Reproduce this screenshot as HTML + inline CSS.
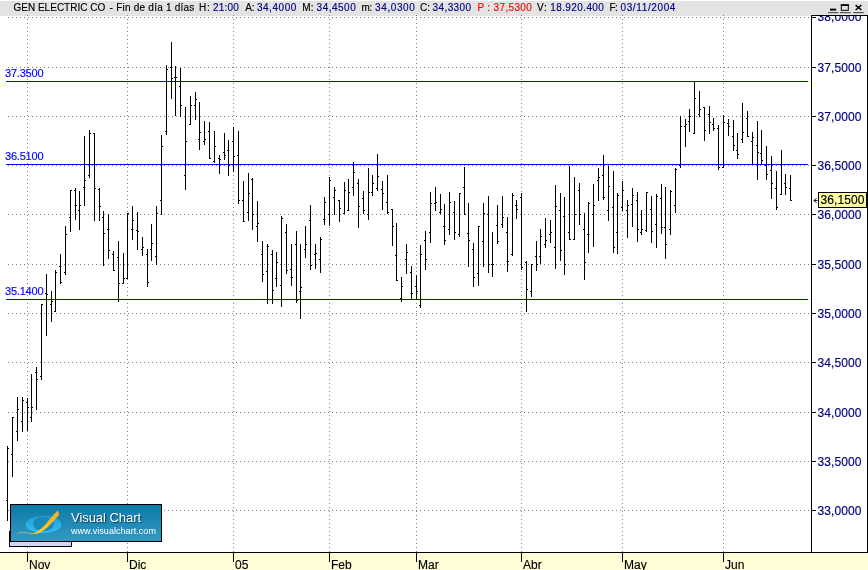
<!DOCTYPE html>
<html><head><meta charset="utf-8"><title>GEN ELECTRIC CO</title>
<style>
html,body{margin:0;padding:0;background:#fff;}
body{width:868px;height:570px;overflow:hidden;position:relative;font-family:"Liberation Sans",Arial,sans-serif;}
#hdr{position:absolute;left:0;top:1px;width:868px;height:15px;background:#e3e3e3;}
#hdr .t{position:absolute;top:1px;font-size:10px;line-height:12px;white-space:pre;color:#000;}
#hdr .b{color:#000080;} #hdr .r{color:#ff0000;}
#root{position:absolute;left:0;top:0;width:868px;height:570px;will-change:transform;}
#chart{position:absolute;left:0;top:0;}
#axis{position:absolute;left:811px;top:15px;width:55px;height:537px;border:1px solid #000;border-bottom:none;background:#fff;overflow:hidden;box-sizing:content-box;}
.pl,.ml,.bl,#tip,#hdr .t{-webkit-text-stroke:0.15px currentColor;}
.pl{position:absolute;left:818px;font-size:12px;line-height:14px;color:#000080;white-space:pre;letter-spacing:0.1px;}
.tk{position:absolute;left:812px;width:4px;height:1px;background:#000;}
#clip{position:absolute;left:812px;top:16px;width:55px;height:536px;overflow:hidden;}
#clip .pl{left:5.5px;} #clip .tk{left:0;}
#bot{position:absolute;left:0;top:552px;width:868px;height:18px;background:#fffcd6;border-top:1px solid #000;box-sizing:border-box;}
.mt{position:absolute;top:552px;width:1px;height:10px;background:#000;}
.ml{position:absolute;top:558px;font-size:12px;line-height:14px;color:#000;}
.bl{position:absolute;left:5px;font-size:11px;line-height:12px;color:#0000ff;letter-spacing:-0.2px;}
#tip{position:absolute;left:818px;top:192px;width:47px;height:14px;border:1px solid #000;background:#fffba5;font-size:12px;line-height:14px;color:#000;text-align:center;letter-spacing:0.1px;}
#logo{position:absolute;left:10px;top:504px;width:150px;height:36px;border:1px solid #000;background:linear-gradient(#0c7aa6,#3598c4);overflow:hidden;}
#logo .a{position:absolute;left:60px;top:5px;font-size:13px;line-height:15px;color:#fff;text-shadow:1px 1px 1px rgba(0,40,70,.8);white-space:pre;letter-spacing:-0.05px;}
#logo .c{position:absolute;left:60px;top:21px;font-size:9px;line-height:11px;color:#fff;white-space:pre;letter-spacing:0.05px;}
#strip{position:absolute;left:9px;top:531px;width:61px;height:14px;border:1px solid #000;background:#ccd9f2;box-sizing:content-box;}
</style></head><body><div id="root">
<div id="hdr"><span class="t k" style="left:13.4px;letter-spacing:0.02px">GEN ELECTRIC CO</span><span class="t k" style="left:109.6px;letter-spacing:0.00px">-</span><span class="t k" style="left:116.2px;letter-spacing:0.23px">Fin de día 1 días</span><span class="t k" style="left:198.9px;letter-spacing:0.78px">H:</span><span class="t b" style="left:212.9px;letter-spacing:0.21px">21:00</span><span class="t k" style="left:245.3px;letter-spacing:-0.27px">A:</span><span class="t b" style="left:256.9px;letter-spacing:0.55px">34,4000</span><span class="t k" style="left:302.2px;letter-spacing:0.27px">M:</span><span class="t b" style="left:316.6px;letter-spacing:0.50px">34,4500</span><span class="t k" style="left:361.6px;letter-spacing:-0.33px">m:</span><span class="t b" style="left:375.1px;letter-spacing:0.60px">34,0300</span><span class="t k" style="left:420.1px;letter-spacing:-0.12px">C:</span><span class="t b" style="left:432.6px;letter-spacing:0.39px">34,3300</span><span class="t r" style="left:477.4px;letter-spacing:0.34px">P : 37,5300</span><span class="t k" style="left:537.0px;letter-spacing:0.80px">V:</span><span class="t b" style="left:550.3px;letter-spacing:0.39px">18.920.400</span><span class="t k" style="left:609.4px;letter-spacing:-0.40px">F:</span><span class="t b" style="left:620.5px;letter-spacing:0.62px">03/11/2004</span>
<svg id="wb" width="40" height="14" viewBox="0 0 40 14" style="position:absolute;left:826px;top:0" shape-rendering="crispEdges">
<rect x="2" y="11" width="10.5" height="1.2" fill="#555" shape-rendering="auto"/><rect x="14" y="11" width="10.5" height="1.2" fill="#555" shape-rendering="auto"/><rect x="27.3" y="11" width="10.4" height="1.2" fill="#555" shape-rendering="auto"/>
<rect x="4" y="7.6" width="6.2" height="2" fill="#000" shape-rendering="auto"/>
<rect x="15.3" y="3.9" width="7" height="5.4" fill="none" stroke="#000" stroke-width="1" shape-rendering="auto"/><rect x="14.8" y="3.4" width="8" height="1.6" fill="#000" shape-rendering="auto"/>
<path d="M29.6 4.2L35.4 9M35.4 4.2L29.6 9" stroke="#000" stroke-width="1.5" shape-rendering="auto"/>
</svg>
</div>
<svg id="chart" width="868" height="570" viewBox="0 0 868 570" shape-rendering="crispEdges">
<line x1="8" y1="17.5" x2="809" y2="17.5" stroke="#808080" stroke-width="1" stroke-dasharray="1 3"/>
<line x1="8" y1="67.5" x2="809" y2="67.5" stroke="#808080" stroke-width="1" stroke-dasharray="1 3"/>
<line x1="8" y1="116.5" x2="809" y2="116.5" stroke="#808080" stroke-width="1" stroke-dasharray="1 3"/>
<line x1="8" y1="165.5" x2="809" y2="165.5" stroke="#808080" stroke-width="1" stroke-dasharray="1 3"/>
<line x1="8" y1="214.5" x2="809" y2="214.5" stroke="#808080" stroke-width="1" stroke-dasharray="1 3"/>
<line x1="8" y1="264.5" x2="809" y2="264.5" stroke="#808080" stroke-width="1" stroke-dasharray="1 3"/>
<line x1="8" y1="313.5" x2="809" y2="313.5" stroke="#808080" stroke-width="1" stroke-dasharray="1 3"/>
<line x1="8" y1="362.5" x2="809" y2="362.5" stroke="#808080" stroke-width="1" stroke-dasharray="1 3"/>
<line x1="8" y1="412.5" x2="809" y2="412.5" stroke="#808080" stroke-width="1" stroke-dasharray="1 3"/>
<line x1="8" y1="461.5" x2="809" y2="461.5" stroke="#808080" stroke-width="1" stroke-dasharray="1 3"/>
<line x1="8" y1="510.5" x2="809" y2="510.5" stroke="#808080" stroke-width="1" stroke-dasharray="1 3"/>
<line x1="27.5" y1="15" x2="27.5" y2="552" stroke="#808080" stroke-width="1" stroke-dasharray="1 3"/>
<line x1="127.5" y1="15" x2="127.5" y2="552" stroke="#808080" stroke-width="1" stroke-dasharray="1 3"/>
<line x1="233.5" y1="15" x2="233.5" y2="552" stroke="#808080" stroke-width="1" stroke-dasharray="1 3"/>
<line x1="329.5" y1="15" x2="329.5" y2="552" stroke="#808080" stroke-width="1" stroke-dasharray="1 3"/>
<line x1="416.5" y1="15" x2="416.5" y2="552" stroke="#808080" stroke-width="1" stroke-dasharray="1 3"/>
<line x1="521.5" y1="15" x2="521.5" y2="552" stroke="#808080" stroke-width="1" stroke-dasharray="1 3"/>
<line x1="622.5" y1="15" x2="622.5" y2="552" stroke="#808080" stroke-width="1" stroke-dasharray="1 3"/>
<line x1="723.5" y1="15" x2="723.5" y2="552" stroke="#808080" stroke-width="1" stroke-dasharray="1 3"/>
<rect x="6" y="81" width="802" height="1" fill="#0000ff"/>
<rect x="6" y="164" width="802" height="1" fill="#0000ff"/>
<rect x="6" y="299" width="802" height="1" fill="#0000ff"/>
<path fill="#000" d="M7 446h1v75h-1zM6 500h1v1h-1zM8 448h1v1h-1zM12 417h1v60h-1zM11 454h1v1h-1zM13 417h1v1h-1zM17 397h1v44h-1zM16 431h1v1h-1zM18 409h1v1h-1zM22 397h1v35h-1zM21 421h1v1h-1zM23 400h1v1h-1zM27 398h1v33h-1zM26 402h1v1h-1zM28 407h1v1h-1zM31 374h1v48h-1zM30 417h1v1h-1zM32 407h1v1h-1zM36 367h1v43h-1zM35 372h1v1h-1zM37 379h1v1h-1zM41 304h1v76h-1zM40 376h1v1h-1zM42 304h1v1h-1zM46 274h1v62h-1zM45 293h1v1h-1zM47 294h1v1h-1zM51 291h1v31h-1zM50 304h1v1h-1zM52 301h1v1h-1zM55 270h1v42h-1zM54 311h1v1h-1zM56 272h1v1h-1zM60 254h1v30h-1zM59 266h1v1h-1zM61 282h1v1h-1zM65 226h1v49h-1zM64 272h1v1h-1zM66 234h1v1h-1zM70 190h1v42h-1zM69 217h1v1h-1zM71 190h1v1h-1zM75 188h1v32h-1zM74 190h1v1h-1zM76 205h1v1h-1zM79 191h1v39h-1zM78 210h1v1h-1zM80 205h1v1h-1zM84 136h1v70h-1zM83 187h1v1h-1zM85 180h1v1h-1zM89 130h1v48h-1zM88 175h1v1h-1zM90 133h1v1h-1zM94 133h1v88h-1zM93 133h1v1h-1zM95 188h1v1h-1zM99 188h1v33h-1zM98 189h1v1h-1zM100 206h1v1h-1zM103 211h1v55h-1zM102 217h1v1h-1zM104 233h1v1h-1zM108 214h1v45h-1zM107 229h1v1h-1zM109 250h1v1h-1zM113 251h1v20h-1zM112 254h1v1h-1zM114 270h1v1h-1zM118 241h1v61h-1zM117 257h1v1h-1zM119 283h1v1h-1zM123 253h1v31h-1zM122 283h1v1h-1zM124 278h1v1h-1zM127 213h1v66h-1zM126 278h1v1h-1zM128 213h1v1h-1zM132 206h1v34h-1zM131 229h1v1h-1zM133 220h1v1h-1zM137 212h1v38h-1zM136 230h1v1h-1zM138 231h1v1h-1zM142 237h1v19h-1zM141 249h1v1h-1zM143 247h1v1h-1zM147 249h1v38h-1zM146 254h1v1h-1zM148 282h1v1h-1zM151 224h1v37h-1zM150 249h1v1h-1zM152 243h1v1h-1zM156 206h1v59h-1zM155 256h1v1h-1zM157 213h1v1h-1zM161 135h1v80h-1zM160 200h1v1h-1zM162 146h1v1h-1zM166 65h1v70h-1zM165 131h1v1h-1zM167 69h1v1h-1zM171 42h1v57h-1zM170 67h1v1h-1zM172 78h1v1h-1zM175 66h1v50h-1zM174 77h1v1h-1zM176 77h1v1h-1zM180 68h1v49h-1zM179 86h1v1h-1zM181 105h1v1h-1zM185 107h1v83h-1zM184 175h1v1h-1zM186 141h1v1h-1zM190 96h1v29h-1zM189 124h1v1h-1zM191 105h1v1h-1zM195 92h1v28h-1zM194 105h1v1h-1zM196 99h1v1h-1zM199 102h1v48h-1zM198 139h1v1h-1zM200 132h1v1h-1zM204 121h1v24h-1zM203 141h1v1h-1zM205 139h1v1h-1zM209 122h1v37h-1zM208 131h1v1h-1zM210 158h1v1h-1zM214 131h1v32h-1zM213 161h1v1h-1zM215 146h1v1h-1zM219 155h1v19h-1zM218 158h1v1h-1zM220 159h1v1h-1zM224 133h1v27h-1zM223 152h1v1h-1zM225 155h1v1h-1zM228 140h1v36h-1zM227 150h1v1h-1zM229 165h1v1h-1zM233 127h1v45h-1zM232 141h1v1h-1zM234 156h1v1h-1zM238 131h1v73h-1zM237 155h1v1h-1zM239 200h1v1h-1zM243 181h1v41h-1zM242 200h1v1h-1zM244 221h1v1h-1zM248 173h1v48h-1zM247 212h1v1h-1zM249 193h1v1h-1zM252 178h1v52h-1zM251 179h1v1h-1zM253 214h1v1h-1zM257 201h1v41h-1zM256 226h1v1h-1zM258 223h1v1h-1zM262 241h1v41h-1zM261 254h1v1h-1zM263 274h1v1h-1zM267 244h1v60h-1zM266 271h1v1h-1zM268 246h1v1h-1zM272 250h1v54h-1zM271 254h1v1h-1zM273 290h1v1h-1zM276 252h1v35h-1zM275 278h1v1h-1zM277 262h1v1h-1zM281 216h1v91h-1zM280 285h1v1h-1zM282 218h1v1h-1zM286 224h1v50h-1zM285 232h1v1h-1zM287 270h1v1h-1zM291 244h1v42h-1zM290 269h1v1h-1zM292 277h1v1h-1zM296 231h1v72h-1zM295 244h1v1h-1zM297 300h1v1h-1zM300 244h1v75h-1zM299 291h1v1h-1zM301 287h1v1h-1zM305 226h1v32h-1zM304 249h1v1h-1zM306 244h1v1h-1zM310 205h1v65h-1zM309 220h1v1h-1zM311 265h1v1h-1zM315 244h1v25h-1zM314 254h1v1h-1zM316 253h1v1h-1zM320 237h1v36h-1zM319 259h1v1h-1zM321 239h1v1h-1zM324 197h1v28h-1zM323 219h1v1h-1zM325 202h1v1h-1zM329 177h1v49h-1zM328 214h1v1h-1zM330 180h1v1h-1zM334 187h1v28h-1zM333 197h1v1h-1zM335 190h1v1h-1zM339 200h1v22h-1zM338 200h1v1h-1zM340 208h1v1h-1zM344 182h1v32h-1zM343 213h1v1h-1zM345 190h1v1h-1zM348 179h1v32h-1zM347 210h1v1h-1zM349 192h1v1h-1zM353 162h1v34h-1zM352 187h1v1h-1zM354 172h1v1h-1zM358 179h1v49h-1zM357 183h1v1h-1zM359 206h1v1h-1zM363 191h1v23h-1zM362 198h1v1h-1zM364 210h1v1h-1zM368 168h1v52h-1zM367 214h1v1h-1zM369 192h1v1h-1zM372 175h1v21h-1zM371 192h1v1h-1zM373 183h1v1h-1zM377 154h1v37h-1zM376 188h1v1h-1zM378 176h1v1h-1zM382 181h1v29h-1zM381 189h1v1h-1zM383 193h1v1h-1zM387 175h1v39h-1zM386 202h1v1h-1zM388 212h1v1h-1zM392 209h1v37h-1zM391 209h1v1h-1zM393 226h1v1h-1zM396 223h1v58h-1zM395 255h1v1h-1zM397 280h1v1h-1zM401 277h1v25h-1zM400 298h1v1h-1zM402 286h1v1h-1zM406 244h1v30h-1zM405 259h1v1h-1zM407 252h1v1h-1zM411 266h1v34h-1zM410 272h1v1h-1zM412 293h1v1h-1zM416 275h1v25h-1zM415 286h1v1h-1zM417 291h1v1h-1zM420 245h1v63h-1zM419 305h1v1h-1zM421 254h1v1h-1zM425 231h1v39h-1zM424 240h1v1h-1zM426 259h1v1h-1zM430 192h1v51h-1zM429 232h1v1h-1zM431 203h1v1h-1zM435 187h1v24h-1zM434 203h1v1h-1zM436 202h1v1h-1zM440 194h1v20h-1zM439 212h1v1h-1zM441 209h1v1h-1zM444 204h1v41h-1zM443 226h1v1h-1zM445 240h1v1h-1zM449 192h1v43h-1zM448 229h1v1h-1zM450 202h1v1h-1zM454 201h1v39h-1zM453 212h1v1h-1zM455 232h1v1h-1zM459 193h1v44h-1zM458 234h1v1h-1zM460 193h1v1h-1zM464 167h1v48h-1zM463 187h1v1h-1zM465 214h1v1h-1zM468 203h1v64h-1zM467 233h1v1h-1zM469 240h1v1h-1zM473 243h1v44h-1zM472 249h1v1h-1zM474 277h1v1h-1zM478 226h1v60h-1zM477 273h1v1h-1zM479 226h1v1h-1zM483 203h1v64h-1zM482 241h1v1h-1zM484 213h1v1h-1zM488 196h1v77h-1zM487 214h1v1h-1zM489 264h1v1h-1zM492 232h1v45h-1zM491 264h1v1h-1zM493 264h1v1h-1zM497 205h1v39h-1zM496 225h1v1h-1zM498 241h1v1h-1zM502 196h1v32h-1zM501 224h1v1h-1zM503 217h1v1h-1zM507 217h1v55h-1zM506 232h1v1h-1zM508 261h1v1h-1zM512 193h1v63h-1zM511 254h1v1h-1zM513 195h1v1h-1zM516 200h1v19h-1zM515 205h1v1h-1zM517 209h1v1h-1zM521 193h1v77h-1zM520 197h1v1h-1zM522 267h1v1h-1zM526 261h1v51h-1zM525 262h1v1h-1zM527 289h1v1h-1zM531 264h1v33h-1zM530 291h1v1h-1zM532 264h1v1h-1zM536 241h1v30h-1zM535 256h1v1h-1zM537 264h1v1h-1zM540 229h1v35h-1zM539 256h1v1h-1zM541 236h1v1h-1zM545 218h1v30h-1zM544 244h1v1h-1zM546 240h1v1h-1zM550 220h1v23h-1zM549 234h1v1h-1zM551 232h1v1h-1zM555 185h1v84h-1zM554 247h1v1h-1zM556 206h1v1h-1zM560 193h1v68h-1zM559 210h1v1h-1zM561 250h1v1h-1zM564 197h1v78h-1zM563 216h1v1h-1zM565 264h1v1h-1zM569 166h1v74h-1zM568 232h1v1h-1zM570 239h1v1h-1zM574 177h1v63h-1zM573 239h1v1h-1zM575 214h1v1h-1zM579 183h1v42h-1zM578 190h1v1h-1zM580 214h1v1h-1zM584 213h1v67h-1zM583 229h1v1h-1zM585 262h1v1h-1zM588 202h1v51h-1zM587 234h1v1h-1zM589 203h1v1h-1zM593 184h1v63h-1zM592 214h1v1h-1zM594 205h1v1h-1zM598 168h1v33h-1zM597 180h1v1h-1zM599 177h1v1h-1zM603 155h1v45h-1zM602 175h1v1h-1zM604 197h1v1h-1zM608 166h1v55h-1zM607 210h1v1h-1zM609 186h1v1h-1zM613 171h1v82h-1zM612 207h1v1h-1zM614 247h1v1h-1zM617 193h1v61h-1zM616 232h1v1h-1zM618 195h1v1h-1zM622 181h1v30h-1zM621 207h1v1h-1zM623 190h1v1h-1zM627 200h1v38h-1zM626 210h1v1h-1zM628 205h1v1h-1zM632 188h1v39h-1zM631 204h1v1h-1zM633 195h1v1h-1zM637 192h1v50h-1zM636 200h1v1h-1zM638 229h1v1h-1zM641 210h1v25h-1zM640 232h1v1h-1zM642 229h1v1h-1zM646 192h1v40h-1zM645 230h1v1h-1zM647 192h1v1h-1zM651 196h1v47h-1zM650 209h1v1h-1zM652 231h1v1h-1zM656 194h1v54h-1zM655 224h1v1h-1zM657 196h1v1h-1zM661 184h1v50h-1zM660 198h1v1h-1zM662 227h1v1h-1zM665 187h1v72h-1zM664 227h1v1h-1zM666 244h1v1h-1zM670 190h1v45h-1zM669 229h1v1h-1zM671 191h1v1h-1zM675 168h1v45h-1zM674 205h1v1h-1zM676 169h1v1h-1zM680 116h1v52h-1zM679 165h1v1h-1zM681 126h1v1h-1zM685 119h1v28h-1zM684 126h1v1h-1zM686 124h1v1h-1zM689 109h1v23h-1zM688 121h1v1h-1zM690 116h1v1h-1zM694 82h1v52h-1zM693 133h1v1h-1zM695 98h1v1h-1zM699 91h1v26h-1zM698 114h1v1h-1zM700 109h1v1h-1zM704 107h1v34h-1zM703 107h1v1h-1zM705 130h1v1h-1zM709 106h1v28h-1zM708 114h1v1h-1zM710 122h1v1h-1zM713 118h1v13h-1zM712 124h1v1h-1zM714 128h1v1h-1zM718 125h1v45h-1zM717 128h1v1h-1zM719 167h1v1h-1zM723 115h1v53h-1zM722 167h1v1h-1zM724 122h1v1h-1zM728 119h1v17h-1zM727 123h1v1h-1zM729 126h1v1h-1zM733 120h1v31h-1zM732 136h1v1h-1zM734 145h1v1h-1zM737 133h1v26h-1zM736 150h1v1h-1zM738 154h1v1h-1zM742 103h1v40h-1zM741 139h1v1h-1zM743 132h1v1h-1zM747 111h1v26h-1zM746 118h1v1h-1zM748 136h1v1h-1zM752 132h1v32h-1zM751 141h1v1h-1zM753 137h1v1h-1zM757 121h1v59h-1zM756 145h1v1h-1zM758 152h1v1h-1zM761 130h1v34h-1zM760 153h1v1h-1zM762 160h1v1h-1zM766 146h1v34h-1zM765 165h1v1h-1zM767 174h1v1h-1zM771 156h1v43h-1zM770 170h1v1h-1zM772 183h1v1h-1zM776 171h1v39h-1zM775 188h1v1h-1zM777 207h1v1h-1zM781 150h1v45h-1zM780 194h1v1h-1zM782 164h1v1h-1zM785 174h1v21h-1zM784 183h1v1h-1zM786 187h1v1h-1zM790 175h1v26h-1zM789 188h1v1h-1zM791 200h1v1h-1z"/>
</svg>
<div class="bl" style="top:67px">37.3500</div>
<div class="bl" style="top:150px">36.5100</div>
<div class="bl" style="top:285px">35.1400</div>
<div id="axis"></div>
<div id="clip">
<div class="pl" style="top:-6px">38,0000</div><div class="tk" style="top:1px"></div><div class="pl" style="top:45px">37,5000</div><div class="tk" style="top:51px"></div><div class="pl" style="top:94px">37,0000</div><div class="tk" style="top:100px"></div><div class="pl" style="top:143px">36,5000</div><div class="tk" style="top:149px"></div><div class="pl" style="top:192px">36,0000</div><div class="tk" style="top:198px"></div><div class="pl" style="top:242px">35,5000</div><div class="tk" style="top:248px"></div><div class="pl" style="top:291px">35,0000</div><div class="tk" style="top:297px"></div><div class="pl" style="top:340px">34,5000</div><div class="tk" style="top:346px"></div><div class="pl" style="top:390px">34,0000</div><div class="tk" style="top:396px"></div><div class="pl" style="top:439px">33,5000</div><div class="tk" style="top:445px"></div><div class="pl" style="top:488px">33,0000</div><div class="tk" style="top:494px"></div>
</div>
<div id="tip">36,1500</div>
<svg width="8" height="8" viewBox="0 0 8 8" style="position:absolute;left:812px;top:196px"><path d="M4.6 2.3L1.8 4.5L4.6 6.7M1.8 4.5H5.6" stroke="#000" stroke-width="0.9" fill="none"/></svg>
<div id="strip"></div>
<div id="logo">
<svg width="60" height="36" viewBox="0 0 60 36" style="position:absolute;left:0;top:0">
<defs><linearGradient id="og" x1="0" y1="0" x2="0" y2="1"><stop offset="0" stop-color="#f5a623"/><stop offset="1" stop-color="#ffd21f"/></linearGradient>
<linearGradient id="eg" x1="0" y1="0" x2="0" y2="1"><stop offset="0" stop-color="#229fd2"/><stop offset="1" stop-color="#2fc0f8"/></linearGradient></defs>
<ellipse cx="32.6" cy="19.5" rx="17.9" ry="8.5" fill="url(#eg)"/>
<ellipse cx="32.5" cy="19.1" rx="10.5" ry="7.4" fill="#1a8bb9"/>
<path d="M19 28.6 C21 28.7 22 28.4 23.5 27.9 C28 26.3 33 21.5 39.3 13.5 C42 10 44.5 7.5 46.8 5.4 C47.8 6.8 48.3 8.6 47.9 10.2 C46 12.5 44.5 14 42.2 16.4 C38 21 34 25 29.2 27.5 C26.5 28.9 23 29.5 19 28.6Z" fill="url(#og)"/>
<path d="M6 29 C8 27.4 11 27.2 14 27.5 C17 27.8 19 28.8 22 28.9" stroke="#e3dc6a" stroke-width="0.8" fill="none" opacity="0.7"/>
</svg>
<div class="a">Visual Chart</div><div class="c">www.visualchart.com</div>
</div>
<div id="bot"></div>
<div class="mt" style="left:27px"></div><div class="ml" style="left:29px">Nov</div><div class="mt" style="left:127px"></div><div class="ml" style="left:129px">Dic</div><div class="mt" style="left:233px"></div><div class="ml" style="left:235px">05</div><div class="mt" style="left:329px"></div><div class="ml" style="left:331px">Feb</div><div class="mt" style="left:416px"></div><div class="ml" style="left:418px">Mar</div><div class="mt" style="left:521px"></div><div class="ml" style="left:523px">Abr</div><div class="mt" style="left:622px"></div><div class="ml" style="left:624px">May</div><div class="mt" style="left:723px"></div><div class="ml" style="left:725px">Jun</div>
</div></body></html>
